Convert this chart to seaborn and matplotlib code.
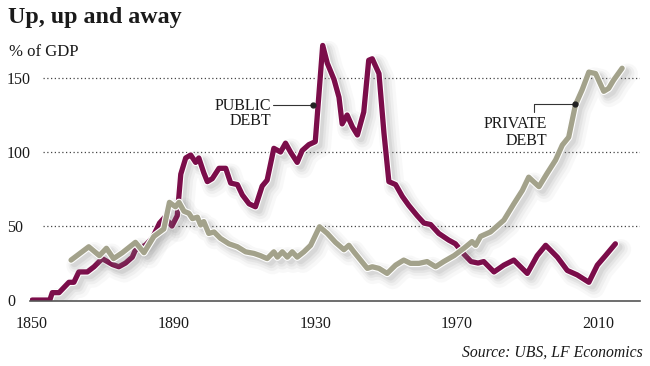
import numpy as np
import pandas as pd
import matplotlib
matplotlib.use('Agg')
import matplotlib.pyplot as plt
import matplotlib.patheffects as pe
import seaborn as sns

# public debt, % of GDP
pub_year = [1850, 1855, 1855.7, 1857.6, 1860.4, 1861.8, 1863.2, 1865.6, 1867.5, 1869.8,
            1872.7, 1874.5, 1876.4, 1878.3, 1879.2, 1882, 1884, 1886, 1887.5, 1889.5,
            1891, 1892, 1893.4, 1894.8, 1896.2, 1897.1, 1898.5, 1899.5, 1900.9, 1902.8,
            1904.7, 1906.1, 1908, 1909.4, 1911.3, 1913.1, 1915, 1916.4, 1918.3, 1920.2,
            1921.6, 1923, 1924.9, 1926.3, 1928.2, 1930, 1932.1, 1933.4, 1935.3, 1936.7,
            1937.6, 1939, 1940.5, 1941.9, 1943.7, 1945.1, 1946.1, 1948, 1949.4, 1950.8,
            1952.7, 1954.6, 1956.4, 1958.8, 1960.7, 1962.6, 1964.9, 1967.7, 1969.6, 1972,
            1974, 1976, 1977.6, 1980.5, 1983.3, 1986.1, 1989.9, 1992.7, 1995.1, 1998.4,
            2001.2, 2004, 2007.3, 2009.7, 2012, 2014.8]
pub_val = [0, 0, 5, 5, 12, 12, 19, 19, 22.5, 28,
           24, 22.5, 25, 29, 34, 37, 42, 52, 56, 50,
           57, 85, 96, 98, 93, 96, 86, 80, 82, 89,
           89, 79, 78, 71, 65, 63, 77, 81, 102.5, 100,
           106, 100, 93, 101, 105, 107, 172, 160, 149, 137,
           119, 125, 117, 111.5, 127, 162, 163, 153, 113, 80,
           78, 70, 64, 57, 52, 51, 45, 40.5, 38, 31,
           26, 25, 26, 19, 23.6, 27, 18, 30, 37, 29,
           20, 17, 12, 23.6, 30, 38]

# private debt, % of GDP
priv_year = [1861, 1866, 1869, 1871, 1873, 1875.5, 1879.2, 1881.6, 1884.4, 1887.2,
             1888.8, 1890.5, 1891.5, 1892.9, 1894.3, 1895.3, 1896.7, 1897.6, 1898.5, 1899.9,
             1901.4, 1903.2, 1905.6, 1908, 1910.3, 1912.7, 1914.5, 1916.4, 1918.3, 1919.3,
             1920.7, 1922.1, 1923.5, 1924.9, 1926.8, 1928.7, 1931.2, 1933.4, 1935.7, 1938.1,
             1939.5, 1940.9, 1942.8, 1944.7, 1946.1, 1948, 1950.3, 1952.7, 1955, 1956.9,
             1959.3, 1961.6, 1964, 1966.3, 1969.2, 1972, 1974.3, 1975.3, 1976.7, 1979.5,
             1983.3, 1986.1, 1988.5, 1990.3, 1993.2, 1995.5, 1997.9, 1999.8, 2001.6, 2003.5,
             2005.4, 2007.3, 2009.2, 2011.5, 2012.9, 2014.3, 2016.7]
priv_val = [27, 36, 30, 35, 28, 32, 39, 32, 43, 48,
            66, 63, 66, 60, 58.6, 55, 56, 50.7, 53, 45,
            46, 41.7, 38, 36, 32.6, 31.5, 30, 28, 32.6, 29,
            32.6, 29, 32.6, 29, 32.6, 37, 49.5, 45, 39, 34,
            37, 32.6, 27, 21.4, 22.5, 21.4, 18, 23.6, 27, 24.8,
            24.8, 26, 22.5, 26, 30, 35, 39.5, 37, 43, 46,
            54, 65, 74, 83, 76.6, 85.6, 94.6, 104.7, 110, 131.8,
            142, 154, 153, 141, 143, 148.6, 156.6]

xticks = [1850, 1890, 1930, 1970, 2010]
yticks = [0, 50, 100, 150]

pub_color = '#7b0d4a'
priv_color = '#a3a28b'

sns.set_style('white')
plt.rcParams['font.family'] = ['Liberation Serif', 'DejaVu Serif']
plt.rcParams['text.color'] = '#1a1a1a'

W, H = 650, 366
fig = plt.figure(figsize=(6.5, 3.66), dpi=100)
ax = fig.add_axes([30 / W, 1 - 300.5 / H, 610 / W, 259.5 / H])


def effects(lw):
    # soft drop shadow, thin white rim, then the line itself
    return [pe.SimpleLineShadow(offset=(4, -4), shadow_color='#808080', alpha=0.05, linewidth=lw + 11),
            pe.SimpleLineShadow(offset=(3.5, -3.5), shadow_color='#808080', alpha=0.07, linewidth=lw + 7),
            pe.SimpleLineShadow(offset=(3, -3), shadow_color='#808080', alpha=0.09, linewidth=lw + 4),
            pe.SimpleLineShadow(offset=(2.5, -2.5), shadow_color='#808080', alpha=0.12, linewidth=lw + 1.5),
            pe.Stroke(linewidth=lw + 1.6, foreground='white'),
            pe.Normal()]


for yv in yticks[1:]:
    ax.axhline(yv, xmin=0.021, xmax=1, color='#444444', lw=0.9, ls=(0, (1, 2)), zorder=0)

pub = pd.DataFrame({'year': pub_year, 'value': pub_val})
priv = pd.DataFrame({'year': priv_year, 'value': priv_val})
lw = 3.8
sns.lineplot(data=pub, x='year', y='value', ax=ax, color=pub_color, lw=lw,
             solid_joinstyle='round', path_effects=effects(lw), zorder=2)
sns.lineplot(data=priv, x='year', y='value', ax=ax, color=priv_color, lw=lw,
             solid_joinstyle='round', path_effects=effects(lw), zorder=3)

ax.set_xlim(1849.4, 2021.75)
ax.set_ylim(-0.3, 175)
ax.set_xticks(xticks)
ax.set_yticks(yticks)
ax.set_xlabel('')
ax.set_ylabel('')
for s in ['top', 'right', 'left']:
    ax.spines[s].set_visible(False)
ax.spines['bottom'].set_color('#555555')
ax.spines['bottom'].set_linewidth(1.2)
ax.tick_params(axis='x', length=4, width=1, color='#555555', direction='out', pad=7, labelsize=11.5,
               labelcolor='#1a1a1a')
ax.tick_params(axis='y', length=0, pad=16.6, labelsize=11.5, labelcolor='#1a1a1a')
for t in ax.get_yticklabels():
    t.set_horizontalalignment('left')

# annotations
ax.plot([1918.1, 1929.5], [132, 132], color='#333333', lw=0.8, zorder=4)
ax.plot([1929.5], [132], 'o', color='#222222', ms=3.5, zorder=5)
ax.text(1917.6, 128.4, 'PUBLIC', ha='right', va='baseline', fontsize=11.5)
ax.text(1917.6, 118.2, 'DEBT', ha='right', va='baseline', fontsize=11.5)

ax.plot([1991.8, 1991.8, 2003.3], [127.2, 132.5, 132.5], color='#333333', lw=0.8, zorder=4)
ax.plot([2003.3], [132.5], 'o', color='#222222', ms=3.5, zorder=5)
ax.text(1995.5, 116.2, 'PRIVATE', ha='right', va='baseline', fontsize=11.5)
ax.text(1995.5, 104.7, 'DEBT', ha='right', va='baseline', fontsize=11.5)

fig.text(8 / W, 1 - 23 / H, 'Up, up and away', fontsize=17.3, fontweight='bold', va='baseline')
fig.text(9 / W, 1 - 55.7 / H, '% of GDP', fontsize=12, va='baseline')
fig.text(643 / W, 1 - 357 / H, 'Source: UBS, LF Economics', fontsize=11.3, style='italic',
         ha='right', va='baseline')

fig.savefig('out.png', dpi=100)
